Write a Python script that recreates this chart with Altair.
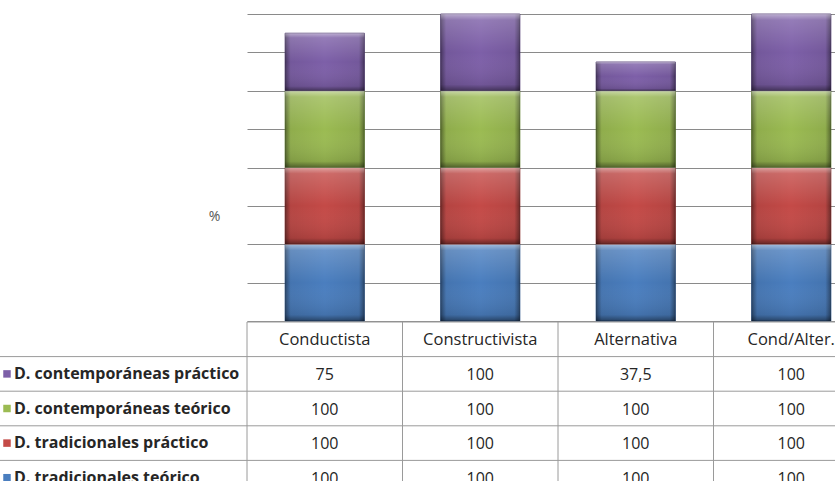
import altair as alt
import pandas as pd

categories = ["Conductista", "Constructivista", "Alternativa", "Cond/Alter."]
series = [
    "D. tradicionales teórico",
    "D. tradicionales práctico",
    "D. contemporáneas teórico",
    "D. contemporáneas práctico",
]
colors = ["#4A7EBF", "#C44A47", "#9BBB52", "#7D5FA8"]
edge_colors = ["#2C5488", "#8A2A28", "#62802E", "#4F3872"]

trad_teorico = [100, 100, 100, 100]
trad_practico = [100, 100, 100, 100]
cont_teorico = [100, 100, 100, 100]
cont_practico = [75, 100, 37.5, 100]
y_ticks = [0, 50, 100, 150, 200, 250, 300, 350, 400]

all_vals = [trad_teorico, trad_practico, cont_teorico, cont_practico]
recs = []
for i, (s, vals) in enumerate(zip(series, all_vals)):
    for c, v in zip(categories, vals):
        recs.append({"cat": c, "series": s, "value": v, "ord": i})
df = pd.DataFrame(recs)

HDR = "hdr"
row_domain = [HDR] + series[::-1]

F = "Open Sans"

xscale = alt.Scale(domain=categories, range=[0, 622], paddingInner=0, paddingOuter=0)
yscale_bar = alt.Scale(domain=[0, 400], range=[307, 0], nice=False)
yscale_tab = alt.Scale(domain=row_domain, range=[308, 481], paddingInner=0, paddingOuter=0)
cscale = alt.Scale(domain=series, range=colors)
escale = alt.Scale(domain=series, range=edge_colors)

X = alt.X("cat:N", scale=xscale, axis=None, sort=categories)

bar_enc = dict(
    x=X,
    y=alt.Y(
        "value:Q",
        stack="zero",
        scale=yscale_bar,
        axis=alt.Axis(
            values=y_ticks, labels=False, ticks=False, domain=False, grid=True,
            gridColor="#8a8a8a", gridWidth=1, gridOpacity=1,
            title="%", titleAngle=0, titleX=-33, titleY=202,
            titleFont=F, titleFontSize=14, titleFontWeight="normal",
            titleColor="#555555", titleAlign="center", titleBaseline="middle",
        ),
    ),
    order=alt.Order("ord:Q"),
    detail="series:N",
)

bw = alt.RelativeBandSize(0.51)
base = alt.Chart(df)
bars = base.mark_bar(width=bw, strokeWidth=1, strokeOpacity=0.8).encode(
    color=alt.Color("series:N", scale=cscale, legend=None),
    stroke=alt.Stroke("series:N", scale=escale, legend=None),
    **bar_enc,
)
grad_h = {
    "gradient": "linear", "x1": 0, "x2": 1, "y1": 0, "y2": 0,
    "stops": [
        {"offset": 0, "color": "rgba(0,0,0,0.45)"},
        {"offset": 0.07, "color": "rgba(0,0,0,0.08)"},
        {"offset": 0.5, "color": "rgba(0,0,0,0.0)"},
        {"offset": 0.93, "color": "rgba(0,0,0,0.08)"},
        {"offset": 1, "color": "rgba(0,0,0,0.45)"},
    ],
}
grad_v = {
    "gradient": "linear", "x1": 0, "x2": 0, "y1": 0, "y2": 1,
    "stops": [
        {"offset": 0, "color": "rgba(255,255,255,0.5)"},
        {"offset": 0.08, "color": "rgba(255,255,255,0.18)"},
        {"offset": 0.5, "color": "rgba(255,255,255,0.0)"},
        {"offset": 0.92, "color": "rgba(0,0,0,0.1)"},
        {"offset": 1, "color": "rgba(0,0,0,0.45)"},
    ],
}
ov_h = base.mark_bar(width=bw, fill=grad_h).encode(**bar_enc)
ov_v = base.mark_bar(width=bw, fill=grad_v).encode(**bar_enc)
top = alt.layer(bars, ov_h, ov_v)

# ---- data table ----
line_col = "#9a9a9a"
vr = alt.Chart(pd.DataFrame({"cat": categories})).mark_rule(color=line_col, strokeWidth=1).encode(
    x=alt.X("cat:N", scale=xscale, axis=None, bandPosition=0),
    y=alt.value(308), y2=alt.value(481),
)
hr = alt.Chart(pd.DataFrame({"row": series[::-1]})).mark_rule(color=line_col, strokeWidth=1).encode(
    y=alt.Y("row:N", scale=yscale_tab, axis=None, bandPosition=0),
    x=alt.value(-247), x2=alt.value(600),
)
hr_top = alt.Chart(pd.DataFrame({"row": [HDR]})).mark_rule(color=line_col, strokeWidth=1).encode(
    y=alt.Y("row:N", scale=yscale_tab, axis=None, bandPosition=0),
    x=alt.value(0), x2=alt.value(600),
)
hdr_txt = alt.Chart(pd.DataFrame({"cat": categories, "row": [HDR] * 4})).mark_text(
    font=F, fontSize=16.5, color="#262626", baseline="middle", dy=1
).encode(x=X, y=alt.Y("row:N", scale=yscale_tab, axis=None), text="cat:N")
val_txt = base.transform_calculate(
    txt="replace(toString(datum.value), '.', ',')"
).mark_text(font=F, fontSize=16, color="#262626", baseline="middle", dy=1).encode(
    x=X, y=alt.Y("series:N", scale=yscale_tab, axis=None), text="txt:N"
)
lab_df = pd.DataFrame({"series": series})
labels = alt.Chart(lab_df).mark_text(
    font=F, fontSize=16, fontWeight="bold", color="#262626", align="left", baseline="middle"
).encode(x=alt.value(-233), y=alt.Y("series:N", scale=yscale_tab, axis=None), text="series:N")
squares = alt.Chart(lab_df).mark_square(size=56, opacity=1).encode(
    x=alt.value(-240),
    y=alt.Y("series:N", scale=yscale_tab, axis=None),
    color=alt.Color("series:N", scale=cscale, legend=None),
)
table = alt.layer(vr, hr, hr_top, hdr_txt, val_txt, labels, squares)

chart = (
    alt.layer(top, table)
    .resolve_scale(y="independent")
    .properties(
        width=588, height=467,
        autosize=alt.AutoSizeParams(type="none"),
        padding={"left": 247, "top": 14, "right": 0, "bottom": 0},
        background="white",
    )
    .configure_view(stroke=None)
)
chart.save("out.html", embed_options={"renderer": "svg", "actions": False})
